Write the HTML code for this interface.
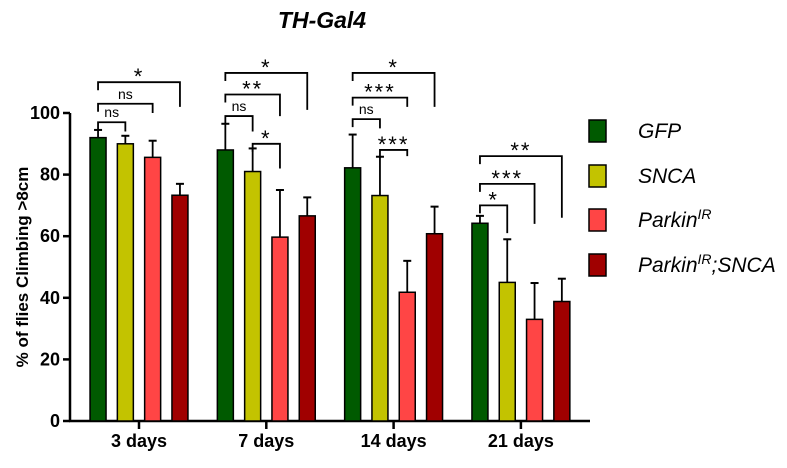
<!DOCTYPE html>
<html><head><meta charset="utf-8"><style>
body{margin:0;background:#fff;width:787px;height:463px;overflow:hidden;font-family:"Liberation Sans",Arial,sans-serif}
svg text{font-family:"Liberation Sans",Arial,sans-serif}
</style></head><body>
<svg id="chart" width="787" height="463"></svg>
<script>
const categories=["3 days","7 days","14 days","21 days"];
const seriesNames=["GFP","SNCA","ParkinIR","ParkinIR;SNCA"];
const colors=["#005a00","#c3c300","#ff4545","#a00000"];
const gfp=[92,88,82.2,64.2];
const snca=[90,81,73.2,45];
const parkin=[85.6,59.7,41.8,33];
const parkinSnca=[73.3,66.6,60.8,38.8];
const gfpErr=[2.5,8.5,10.8,2.4];
const sncaErr=[2.6,7.5,12.6,14];
const parkinErr=[5.4,15.3,10.2,11.8];
const parkinSncaErr=[3.7,6,8.8,7.4];
const yTicks=[0,20,40,60,80,100];
// brackets: [group, barA, barB, bracketLevelPct, rightDropPct, label]
const brackets=[
 [0,0,1,97,94,"ns"],[0,0,2,103,100,"ns"],[0,0,3,110,102,"*"],
 [1,0,1,99,94,"ns"],[1,0,2,106,99,"**"],[1,0,3,113,101,"*"],[1,1,2,90,82,"*"],
 [2,0,1,98,95,"ns"],[2,0,2,105,102,"***"],[2,0,3,113,102,"*"],[2,1,2,88,86,"***"],
 [3,0,1,70,61,"*"],[3,0,2,77,64,"***"],[3,0,3,86,66,"**"]
];
const values=[gfp,snca,parkin,parkinSnca];
const errs=[gfpErr,sncaErr,parkinErr,parkinSncaErr];
const svg=document.getElementById('chart');
const NS="http://www.w3.org/2000/svg";
function el(t,a,p){const e=document.createElementNS(NS,t);for(const k in a)e.setAttribute(k,a[k]);(p||svg).appendChild(e);return e;}
const x0=70,y0=421,yTop=113;
function Y(v){return y0-(v/100)*(y0-yTop);}
function gx(g){return 139+g*127.3;}
function bx(g,i){return gx(g)+(i-1.5)*27.3;}
const bw=16;
const ya=el('line',{x1:x0,y1:y0+1,x2:x0,y2:Y(100),stroke:'#000','stroke-width':2.5});

const xa=el('line',{x1:x0-1,y1:y0,x2:590,y2:y0,stroke:'#000','stroke-width':2.5});

yTicks.forEach(t=>{
 el('line',{x1:x0-7,y1:Y(t),x2:x0,y2:Y(t),stroke:'#000','stroke-width':2.5});
 const tx=el('text',{x:x0-10,y:Y(t)+6,'text-anchor':'end','font-size':18,'font-weight':'bold'});
 tx.textContent=t;
 
});
categories.forEach((c,g)=>{
 el('line',{x1:gx(g),y1:y0,x2:gx(g),y2:y0+8,stroke:'#000','stroke-width':2.5});
 const tx=el('text',{x:gx(g),y:447,'text-anchor':'middle','font-size':18,'font-weight':'bold'});
 tx.textContent=c;
 
});
values.forEach((arr,i)=>{arr.forEach((v,g)=>{
 const cx=bx(g,i),top=Y(v+errs[i][g]);
 const eb=el('line',{x1:cx,y1:Y(v),x2:cx,y2:top,stroke:'#000','stroke-width':1.8});
 
 el('line',{x1:cx-4,y1:top,x2:cx+4,y2:top,stroke:'#000','stroke-width':2});
 const r=el('rect',{x:cx-bw/2,y:Y(v),width:bw,height:y0-Y(v),fill:colors[i],stroke:'#000','stroke-width':1.5});
 
 
});});
brackets.forEach(b=>{
 const [g,a,c,lv,rd,lab]=b;
 const xa_=bx(g,a),xb=bx(g,c),yy=Y(lv);
 const p=el('path',{d:`M${xa_},${yy+8}V${yy}H${xb}V${Y(rd)}`,fill:'none',stroke:'#000','stroke-width':1.8});
 
 const stars=lab!=='ns';
 const tx=el('text',{x:(xa_+xb)/2,y:stars?yy+2:yy-5,'text-anchor':'middle','font-size':stars?22:14,'font-weight':'normal','letter-spacing':stars?2:0});
 tx.textContent=lab;
 
});
const ti=el('text',{x:322,y:28,'text-anchor':'middle','font-size':23,'font-weight':'bold','font-style':'italic'});
ti.textContent='TH-Gal4';
const yl=el('text',{x:0,y:0,transform:'translate(28,267) rotate(-90)','text-anchor':'middle','font-size':17,'font-weight':'bold'});
yl.textContent='% of flies Climbing >8cm';
const legY=[130,175,219,264];
const legLabels=[['GFP',''],['SNCA',''],['Parkin','IR',''],['Parkin','IR',';SNCA']];
legY.forEach((ly,i)=>{
 const r=el('rect',{x:589,y:ly-10,width:17,height:22,fill:colors[i],stroke:'#000','stroke-width':1.5});
 
 const t=el('text',{x:638,y:ly+8,'font-size':21,'font-style':'italic'});
 
 const L=legLabels[i];
 const s1=el('tspan',{},t);s1.textContent=L[0];
 if(L.length>2){
  const s2=el('tspan',{'font-size':14,dy:-8},t);s2.textContent=L[1];
  const s3=el('tspan',{dy:8},t);s3.textContent=L[2];
 }
});
</script>
</body></html>
